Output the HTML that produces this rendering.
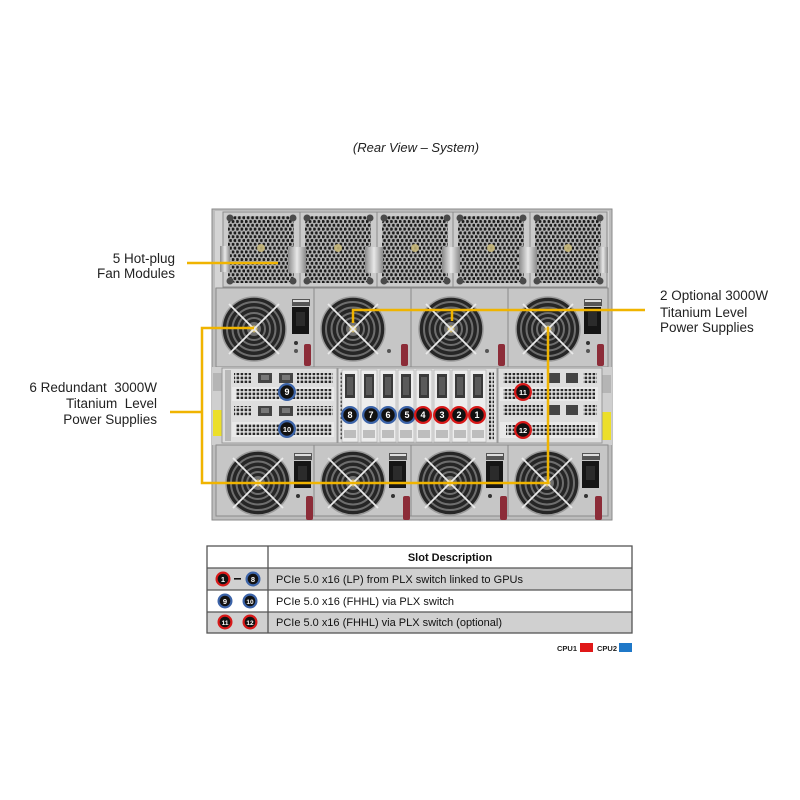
<!DOCTYPE html>
<html><head><meta charset="utf-8"><style>
html,body{margin:0;padding:0;background:#fff;width:800px;height:800px;overflow:hidden}
svg{display:block}
text{font-family:"Liberation Sans",Arial,sans-serif}
</style></head><body>
<svg width="800" height="800" viewBox="0 0 800 800" xmlns="http://www.w3.org/2000/svg">
<defs>
<pattern id="perf" width="4.4" height="7.6" patternUnits="userSpaceOnUse">
<rect width="4.4" height="7.6" fill="#b4b4b4"/>
<circle cx="1.1" cy="1.9" r="1.6" fill="#1c1c1c"/>
<circle cx="3.3" cy="5.7" r="1.6" fill="#1c1c1c"/>
</pattern>
<pattern id="vent" width="4" height="4" patternUnits="userSpaceOnUse">
<rect width="4" height="4" fill="#e6e6e6"/>
<rect x="0.6" y="0.6" width="2.6" height="2.6" fill="#2a2a2a"/>
</pattern>
<linearGradient id="silver" x1="0" x2="1" y1="0" y2="0">
<stop offset="0" stop-color="#8a8a8a"/><stop offset=".5" stop-color="#e8e8e8"/><stop offset="1" stop-color="#8a8a8a"/>
</linearGradient>
<g id="pf">
<circle r="32" fill="#262626" stroke="#9a9a9a" stroke-width="1.5"/>
<circle r="27" fill="none" stroke="#6e6e6e" stroke-width="2"/>
<circle r="21.5" fill="none" stroke="#6e6e6e" stroke-width="2"/>
<circle r="16" fill="none" stroke="#6e6e6e" stroke-width="2"/>
<circle r="11" fill="none" stroke="#6e6e6e" stroke-width="2"/>
<circle r="7" fill="#707070"/>
<circle r="3.5" fill="#cdb870"/>
<path d="M-25,-25L25,25M25,-25L-25,25" stroke="#ebebeb" stroke-width="1.8"/>
</g>
<g id="fm">
<rect width="77" height="75" fill="#cbcbcb" stroke="#8c8c8c"/>
<rect x="5" y="4" width="66" height="67" rx="8" fill="url(#perf)"/>
<circle cx="7" cy="6" r="3.5" fill="#4a4a4a"/>
<circle cx="70" cy="6" r="3.5" fill="#4a4a4a"/>
<circle cx="7" cy="69" r="3.5" fill="#4a4a4a"/>
<circle cx="70" cy="69" r="3.5" fill="#4a4a4a"/>
<circle cx="38" cy="36" r="4" fill="#c9b978" opacity=".85"/>
</g>
<g id="sock">
<rect x="0" y="-8" width="18" height="7" fill="#555"/>
<rect x="1" y="-7" width="16" height="2" fill="#ddd"/>
<rect x="0" y="0" width="17" height="27" fill="#151515"/>
<rect x="4" y="5" width="9" height="14" fill="#2b2b2b"/>
</g>
<g id="slot">
<rect x="-8" y="370" width="16" height="72" fill="#ededed" stroke="#a8a8a8" stroke-width=".6"/>
<rect x="-5" y="374" width="10" height="24" fill="#3a3a3a"/>
<rect x="-3" y="377" width="6" height="18" fill="#5a5a5a"/>
<rect x="-6" y="430" width="12" height="8" fill="#bdbdbd"/>
</g>
</defs>

<!-- Title -->
<text x="416" y="152" font-size="13" font-style="italic" text-anchor="middle" fill="#222">(Rear View – System)</text>

<!-- Chassis -->
<rect x="212" y="209" width="400" height="311" fill="#bdbdbd" stroke="#8a8a8a"/>
<rect x="215" y="211" width="394" height="77" fill="#d4d4d4"/>

<!-- Fan modules -->
<use href="#fm" x="223" y="212"/>
<use href="#fm" x="300" y="212"/>
<use href="#fm" x="377" y="212"/>
<use href="#fm" x="453" y="212"/>
<use href="#fm" x="530" y="212"/>
<rect x="220" y="246" width="10" height="26" fill="url(#silver)"/>
<rect x="288" y="247" width="18" height="26" fill="url(#silver)"/>
<rect x="365" y="247" width="18" height="26" fill="url(#silver)"/>
<rect x="442" y="247" width="18" height="26" fill="url(#silver)"/>
<rect x="519" y="247" width="18" height="26" fill="url(#silver)"/>
<rect x="598" y="247" width="10" height="26" fill="url(#silver)"/>

<!-- Top PSU row -->
<rect x="216" y="288" width="98" height="79" fill="#c6c6c6" stroke="#8a8a8a"/>
<rect x="314" y="288" width="97" height="79" fill="#c6c6c6" stroke="#8a8a8a"/>
<rect x="411" y="288" width="97" height="79" fill="#c6c6c6" stroke="#8a8a8a"/>
<rect x="508" y="288" width="100" height="79" fill="#c6c6c6" stroke="#8a8a8a"/>
<use href="#pf" x="254" y="329"/>
<use href="#pf" x="353" y="329"/>
<use href="#pf" x="451" y="329"/>
<use href="#pf" x="548" y="329"/>
<use href="#sock" x="292" y="307"/>
<use href="#sock" x="584" y="307"/>
<circle cx="296" cy="343" r="2" fill="#333"/><circle cx="296" cy="351" r="2" fill="#555"/>
<circle cx="389" cy="351" r="2" fill="#555"/><circle cx="487" cy="351" r="2" fill="#555"/>
<circle cx="588" cy="343" r="2" fill="#333"/><circle cx="588" cy="351" r="2" fill="#555"/>
<rect x="304" y="344" width="7" height="22" rx="2" fill="#8c2c38"/>
<rect x="401" y="344" width="7" height="22" rx="2" fill="#8c2c38"/>
<rect x="498" y="344" width="7" height="22" rx="2" fill="#8c2c38"/>
<rect x="597" y="344" width="7" height="22" rx="2" fill="#8c2c38"/>

<!-- Middle I/O section -->
<rect x="212" y="367" width="400" height="78" fill="#cfcfcf"/>
<rect x="213" y="373" width="9" height="18" fill="#b5b5b5"/>
<rect x="213" y="410" width="9" height="26" fill="#ecdf2a"/>
<rect x="602" y="375" width="9" height="18" fill="#b5b5b5"/>
<rect x="602" y="412" width="9" height="28" fill="#ecdf2a"/>

<!-- left block -->
<rect x="222" y="368" width="115" height="75" fill="#dedede" stroke="#999"/>
<rect x="225" y="370" width="6" height="71" fill="#b8b8b8"/>
<rect x="234" y="373" width="17" height="10" fill="url(#vent)"/>
<rect x="258" y="373" width="14" height="10" fill="#444"/><rect x="261" y="375" width="8" height="5" fill="#777"/>
<rect x="279" y="373" width="14" height="10" fill="#444"/><rect x="282" y="375" width="8" height="5" fill="#777"/>
<rect x="297" y="373" width="36" height="10" fill="url(#vent)"/>
<rect x="232" y="387" width="102" height="14" fill="#e9e9e9"/>
<rect x="236" y="389" width="96" height="10" fill="url(#vent)"/>
<rect x="234" y="406" width="17" height="10" fill="url(#vent)"/>
<rect x="258" y="406" width="14" height="10" fill="#444"/><rect x="261" y="408" width="8" height="5" fill="#777"/>
<rect x="279" y="406" width="14" height="10" fill="#444"/><rect x="282" y="408" width="8" height="5" fill="#777"/>
<rect x="297" y="406" width="36" height="10" fill="url(#vent)"/>
<rect x="232" y="422" width="102" height="15" fill="#e9e9e9"/>
<rect x="236" y="424" width="96" height="11" fill="url(#vent)"/>

<!-- middle block -->
<rect x="338" y="368" width="159" height="75" fill="#e0e0e0" stroke="#999"/>
<rect x="340" y="372" width="5" height="68" fill="url(#vent)"/>
<use href="#slot" x="350" y="0"/>
<use href="#slot" x="369" y="0"/>
<use href="#slot" x="388" y="0"/>
<use href="#slot" x="406" y="0"/>
<use href="#slot" x="424" y="0"/>
<use href="#slot" x="442" y="0"/>
<use href="#slot" x="460" y="0"/>
<use href="#slot" x="478" y="0"/>
<rect x="489" y="372" width="5" height="68" fill="url(#vent)"/>

<!-- right block -->
<rect x="498" y="368" width="104" height="75" fill="#dedede" stroke="#999"/>
<rect x="503" y="373" width="40" height="10" fill="url(#vent)"/>
<rect x="548" y="373" width="12" height="10" fill="#444"/>
<rect x="566" y="373" width="12" height="10" fill="#444"/>
<rect x="583" y="373" width="14" height="10" fill="url(#vent)"/>
<rect x="500" y="387" width="98" height="14" fill="#e9e9e9"/>
<rect x="503" y="389" width="92" height="10" fill="url(#vent)"/>
<rect x="503" y="405" width="40" height="10" fill="url(#vent)"/>
<rect x="548" y="405" width="12" height="10" fill="#444"/>
<rect x="566" y="405" width="12" height="10" fill="#444"/>
<rect x="583" y="405" width="14" height="10" fill="url(#vent)"/>
<rect x="500" y="422" width="98" height="16" fill="#e9e9e9"/>
<rect x="506" y="425" width="89" height="10" fill="url(#vent)"/>

<!-- Bottom PSU row -->
<rect x="216" y="445" width="98" height="71" fill="#c6c6c6" stroke="#8a8a8a"/>
<rect x="314" y="445" width="97" height="71" fill="#c6c6c6" stroke="#8a8a8a"/>
<rect x="411" y="445" width="97" height="71" fill="#c6c6c6" stroke="#8a8a8a"/>
<rect x="508" y="445" width="100" height="71" fill="#c6c6c6" stroke="#8a8a8a"/>
<use href="#pf" x="258" y="483"/>
<use href="#pf" x="353" y="483"/>
<use href="#pf" x="450" y="483"/>
<use href="#pf" x="547" y="483"/>
<use href="#sock" x="294" y="461"/>
<use href="#sock" x="389" y="461"/>
<use href="#sock" x="486" y="461"/>
<use href="#sock" x="582" y="461"/>
<circle cx="298" cy="496" r="2" fill="#333"/><circle cx="393" cy="496" r="2" fill="#333"/>
<circle cx="490" cy="496" r="2" fill="#333"/><circle cx="586" cy="496" r="2" fill="#333"/>
<rect x="306" y="496" width="7" height="24" rx="2" fill="#8c2c38"/>
<rect x="403" y="496" width="7" height="24" rx="2" fill="#8c2c38"/>
<rect x="500" y="496" width="7" height="24" rx="2" fill="#8c2c38"/>
<rect x="595" y="496" width="7" height="24" rx="2" fill="#8c2c38"/>

<!-- Badges on chassis -->
<g font-size="9" font-weight="bold" fill="#fff" text-anchor="middle">
<circle cx="287" cy="392" r="9" fill="#3b63a8"/><circle cx="287" cy="392" r="6.7" fill="#111"/><text x="287" y="395">9</text>
<circle cx="287" cy="429" r="9" fill="#3b63a8"/><circle cx="287" cy="429" r="6.7" fill="#111"/><text x="287" y="432" font-size="7.5">10</text>
<circle cx="350" cy="415" r="9" fill="#3b63a8"/><circle cx="350" cy="415" r="6.7" fill="#111"/><text x="350" y="418">8</text>
<circle cx="371" cy="415" r="9" fill="#3b63a8"/><circle cx="371" cy="415" r="6.7" fill="#111"/><text x="371" y="418">7</text>
<circle cx="388" cy="415" r="9" fill="#3b63a8"/><circle cx="388" cy="415" r="6.7" fill="#111"/><text x="388" y="418">6</text>
<circle cx="407" cy="415" r="9" fill="#3b63a8"/><circle cx="407" cy="415" r="6.7" fill="#111"/><text x="407" y="418">5</text>
<circle cx="423" cy="415" r="9" fill="#d81818"/><circle cx="423" cy="415" r="6.7" fill="#111"/><text x="423" y="418">4</text>
<circle cx="442" cy="415" r="9" fill="#d81818"/><circle cx="442" cy="415" r="6.7" fill="#111"/><text x="442" y="418">3</text>
<circle cx="459" cy="415" r="9" fill="#d81818"/><circle cx="459" cy="415" r="6.7" fill="#111"/><text x="459" y="418">2</text>
<circle cx="477" cy="415" r="9" fill="#d81818"/><circle cx="477" cy="415" r="6.7" fill="#111"/><text x="477" y="418">1</text>
<circle cx="523" cy="392" r="9" fill="#d81818"/><circle cx="523" cy="392" r="6.7" fill="#111"/><text x="523" y="395" font-size="7.5">11</text>
<circle cx="523" cy="430" r="9" fill="#d81818"/><circle cx="523" cy="430" r="6.7" fill="#111"/><text x="523" y="433" font-size="7.5">12</text>
</g>

<!-- Callout lines -->
<g stroke="#f0b400" stroke-width="2.5" fill="none">
<path d="M187,263H278"/>
<path d="M254,328H202V483H548V327"/>
<path d="M170,412H202"/>
<path d="M353,323V310H645"/>
<path d="M452,321V310"/>
</g>

<!-- Labels -->
<g font-size="13.5" fill="#222">
<text x="175" y="263" text-anchor="end">5 Hot-plug</text>
<text x="175" y="278" text-anchor="end">Fan Modules</text>
<text x="157" y="392" text-anchor="end" xml:space="preserve">6 Redundant  3000W</text>
<text x="157" y="408" text-anchor="end" xml:space="preserve">Titanium  Level</text>
<text x="157" y="424" text-anchor="end">Power Supplies</text>
<text x="660" y="300">2 Optional 3000W</text>
<text x="660" y="317">Titanium Level</text>
<text x="660" y="332">Power Supplies</text>
</g>

<!-- Table -->
<rect x="207" y="568" width="425" height="22" fill="#d0d0d0"/>
<rect x="207" y="612" width="425" height="21" fill="#d0d0d0"/>
<g stroke="#555" stroke-width="1.3" fill="none">
<rect x="207" y="546" width="425" height="87"/>
<path d="M268,546V633M207,568H632M207,590H632M207,612H632"/>
</g>
<text x="450" y="561" font-size="11" font-weight="bold" text-anchor="middle" fill="#111">Slot  Description</text>
<g font-size="11" fill="#111">
<text x="276" y="583" textLength="247" lengthAdjust="spacing">PCIe 5.0 x16 (LP) from PLX switch linked to GPUs</text>
<text x="276" y="605" textLength="178" lengthAdjust="spacing">PCIe 5.0 x16 (FHHL) via PLX switch</text>
<text x="276" y="626" textLength="226" lengthAdjust="spacing">PCIe 5.0 x16 (FHHL) via PLX switch (optional)</text>
</g>
<g font-size="7.5" font-weight="bold" fill="#fff" text-anchor="middle">
<circle cx="223" cy="579" r="7.5" fill="#d81818"/><circle cx="223" cy="579" r="5.3" fill="#111"/><text x="223" y="582">1</text>
<rect x="234" y="578" width="7" height="1.6" fill="#111"/>
<circle cx="253" cy="579" r="7.5" fill="#3b63a8"/><circle cx="253" cy="579" r="5.3" fill="#111"/><text x="253" y="582">8</text>
<circle cx="225" cy="601" r="7.5" fill="#3b63a8"/><circle cx="225" cy="601" r="5.3" fill="#111"/><text x="225" y="604">9</text>
<circle cx="250" cy="601" r="7.5" fill="#3b63a8"/><circle cx="250" cy="601" r="5.3" fill="#111"/><text x="250" y="604" font-size="6.5">10</text>
<circle cx="225" cy="622" r="7.5" fill="#d81818"/><circle cx="225" cy="622" r="5.3" fill="#111"/><text x="225" y="625" font-size="6.5">11</text>
<circle cx="250" cy="622" r="7.5" fill="#d81818"/><circle cx="250" cy="622" r="5.3" fill="#111"/><text x="250" y="625" font-size="6.5">12</text>
</g>

<!-- Legend -->
<text x="557" y="651" font-size="7.5" font-weight="bold" fill="#222">CPU1</text>
<rect x="580" y="643" width="13" height="9" fill="#e01818"/>
<text x="597" y="651" font-size="7.5" font-weight="bold" fill="#222">CPU2</text>
<rect x="619" y="643" width="13" height="9" fill="#1f78c8"/>
</svg>
</body></html>
